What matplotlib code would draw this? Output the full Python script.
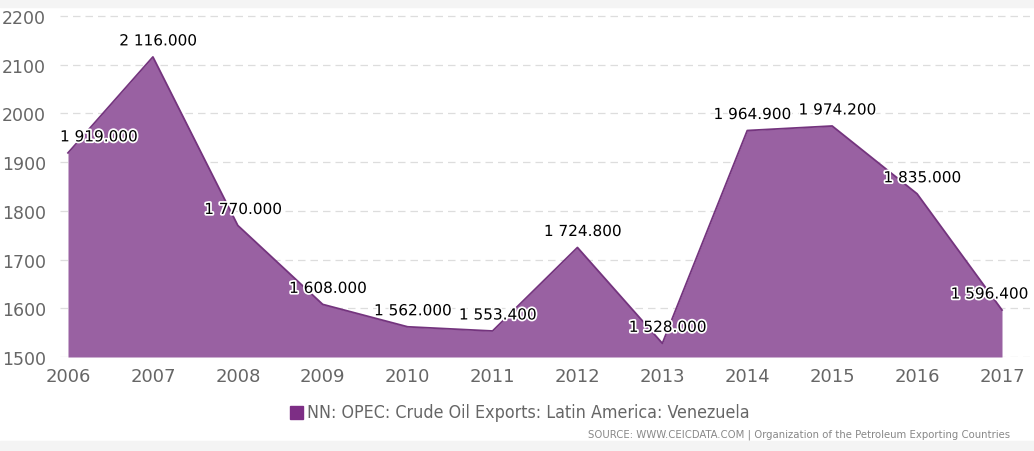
import numpy as np
import matplotlib.pyplot as plt
from matplotlib.patches import Rectangle
import matplotlib.patheffects as pe

years = [2006, 2007, 2008, 2009, 2010, 2011, 2012, 2013, 2014, 2015, 2016, 2017]
exports = [1919.0, 2116.0, 1770.0, 1608.0, 1562.0, 1553.4, 1724.8, 1528.0, 1964.9, 1974.2, 1835.0, 1596.4]
series_name = 'NN: OPEC: Crude Oil Exports: Latin America: Venezuela'
source = 'SOURCE: WWW.CEICDATA.COM | Organization of the Petroleum Exporting Countries'

W, H = 1034, 452
fig = plt.figure(figsize=(W / 100, H / 100), dpi=100)
fig.patch.set_facecolor('white')

# grey bands top / bottom
fig.patches.append(Rectangle((0, 1 - 8 / H), 1, 8 / H, transform=fig.transFigure, color='#f4f4f4', zorder=0))
fig.patches.append(Rectangle((0, 0), 1, 10 / H, transform=fig.transFigure, color='#f4f4f4', zorder=0))

left, right, top, bottom = 60, 1030, 10, 358
ax = fig.add_axes([left / W, 1 - bottom / H, (right - left) / W, (bottom - top) / H])
ax.set_facecolor('none')

px_year = (1002 - 68) / 11
ax.set_xlim(2006 - 8 / px_year, 2017 + 28 / px_year)
px_val = (358 - 17) / 700
ax.set_ylim(1500, 2200 + 7 / px_val)

ax.fill_between(years, exports, 1500, color='#9961a2', lw=0, zorder=2)
ax.plot(years, exports, color='#74347e', lw=1.3, zorder=3)

ax.set_yticks(range(1500, 2201, 100))
ax.set_xticks(years)
ax.grid(axis='y', color='#dddddd', ls=(0, (6, 4)), lw=0.9, zorder=1)
for s in ax.spines.values():
    s.set_visible(False)
ax.tick_params(length=0, colors='#666666', labelsize=12.5)
ax.tick_params(axis='x', labelsize=13)
ax.tick_params(axis='y', pad=10)
ax.tick_params(axis='x', pad=7)

def fmt(v):
    return '{:,.3f}'.format(v).replace(',', ' ')

n = len(years)
for i, (x, y) in enumerate(zip(years, exports)):
    ha, dx = 'center', 5
    if i == 0:
        ha, dx = 'left', -8
    elif i == n - 1:
        ha, dx = 'right', 26
    ax.annotate(fmt(y), (x, y), xytext=(dx, 16), textcoords='offset pixels',
                ha=ha, va='center', fontsize=11, color='black', zorder=5,
                path_effects=[pe.withStroke(linewidth=2.5, foreground='white')])

fig.patches.append(Rectangle((290 / W, 1 - 420 / H), 13 / W, 13 / H, transform=fig.transFigure, color='#7d2e85'))
fig.text(307 / W, 1 - 413 / H, series_name, ha='left', va='center', fontsize=12.8,
         color='#666666', fontstretch='condensed')
fig.text(1010 / W, 1 - 435 / H, source, ha='right', va='center', fontsize=8.1,
         color='#888888', fontstretch='condensed')

fig.savefig('out.png', dpi=100)
